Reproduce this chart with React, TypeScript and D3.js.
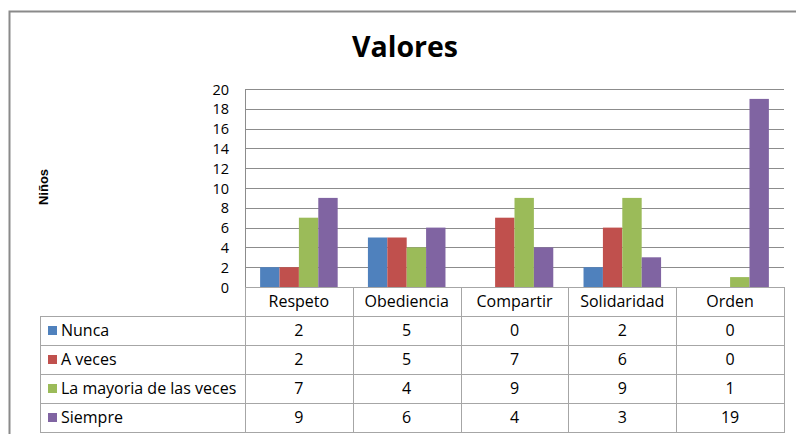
import React from "react";
import * as d3 from "d3";

const categories = ["Respeto", "Obediencia", "Compartir", "Solidaridad", "Orden"];
const seriesNames = ["Nunca", "A veces", "La mayoria de las veces", "Siempre"];
const nunca = [2, 5, 0, 2, 0];
const aVeces = [2, 5, 7, 6, 0];
const mayoria = [7, 4, 9, 9, 1];
const siempre = [9, 6, 4, 3, 19];
const yTicks = [0, 2, 4, 6, 8, 10, 12, 14, 16, 18, 20];
const colors = ["#4F81BD", "#C0504D", "#9BBB59", "#8064A2"];

const seriesValues = [nunca, aVeces, mayoria, siempre];

export default function App() {
  const W = 796;
  const H = 434;
  const plotLeft = 245;
  const plotRight = 784;
  const plotTop = 89;
  const plotBottom = 287;
  const tableLeft = 40;
  const rowH = 29;
  const headerBottom = plotBottom + 29;

  const y = d3.scaleLinear().domain([0, 20]).range([plotBottom, plotTop]);
  const x0 = d3.scaleBand<string>().domain(categories).range([plotLeft, plotRight]).padding(0);
  const x1 = d3
    .scaleBand<string>()
    .domain(seriesNames)
    .range([0, x0.bandwidth()])
    .paddingInner(0)
    .paddingOuter(0.78);

  const font = "'Open Sans', Lato, sans-serif";
  const fs = 16;
  const tickFs = 14.5;
  const gridColor = "#8c8c8c";
  const tableColor = "#a6a6a6";
  const tableBottom = headerBottom + rowH * seriesNames.length;

  return (
    <svg
      width={W}
      height={H}
      style={{ position: "absolute", left: 0, top: 0, background: "#fff" }}
    >
      <rect x={0} y={0} width={W} height={H} fill="#fff" />
      {/* outer frame */}
      <path d={`M9.5,${H + 2} V11.5 H${W + 2}`} fill="none" stroke="#8a8a8a" strokeWidth={2} />

      {/* title */}
      <text x={405} y={57} textAnchor="middle" fontFamily={font} fontWeight="bold" fontSize={28.5} fill="#000">
        Valores
      </text>

      {/* y label */}
      <text
        transform={`translate(48,187) rotate(-90)`}
        textAnchor="middle"
        fontFamily="'Liberation Sans', Arial, sans-serif"
        fontWeight="bold"
        fontSize={13}
        fill="#000"
      >
        Niños
      </text>

      {/* gridlines */}
      {yTicks.map((t) => (
        <line
          key={t}
          x1={plotLeft}
          x2={plotRight}
          y1={Math.round(y(t)) + 0.5}
          y2={Math.round(y(t)) + 0.5}
          stroke={t === 0 ? tableColor : gridColor}
          strokeWidth={1}
        />
      ))}
      {/* y axis line */}
      <line x1={plotLeft + 0.5} x2={plotLeft + 0.5} y1={plotTop} y2={plotBottom} stroke={gridColor} />

      {/* tick labels */}
      {yTicks.map((t) => (
        <text
          key={t}
          x={229}
          y={y(t) + 5.5}
          textAnchor="end"
          fontFamily={font}
          fontSize={tickFs}
          fill="#000"
        >
          {t}
        </text>
      ))}

      {/* bars */}
      {categories.map((c, ci) =>
        seriesNames.map((s, si) => {
          const v = seriesValues[si][ci];
          const bx = (x0(c) ?? 0) + (x1(s) ?? 0);
          return (
            <rect
              key={c + s}
              x={bx}
              y={y(v)}
              width={x1.bandwidth()}
              height={y(0) - y(v)}
              fill={colors[si]}
            />
          );
        })
      )}

      {/* table */}
      {categories.map((c) => (
        <line
          key={"v" + c}
          x1={Math.round(x0(c) ?? 0) + 0.5}
          x2={Math.round(x0(c) ?? 0) + 0.5}
          y1={plotBottom}
          y2={tableBottom}
          stroke={tableColor}
        />
      ))}
      <line x1={plotRight + 0.5} x2={plotRight + 0.5} y1={plotBottom} y2={tableBottom} stroke={tableColor} />
      <line x1={tableLeft + 0.5} x2={tableLeft + 0.5} y1={headerBottom} y2={tableBottom} stroke={tableColor} />
      {seriesNames.map((s, si) => (
        <line
          key={"h" + s}
          x1={tableLeft}
          x2={plotRight}
          y1={headerBottom + si * rowH + 0.5}
          y2={headerBottom + si * rowH + 0.5}
          stroke={tableColor}
        />
      ))}
      <line
        x1={tableLeft}
        x2={plotRight + 1}
        y1={tableBottom + 0.5}
        y2={tableBottom + 0.5}
        stroke={tableColor}
      />

      {/* header labels */}
      {categories.map((c) => (
        <text
          key={"l" + c}
          x={(x0(c) ?? 0) + x0.bandwidth() / 2}
          y={plotBottom + 20}
          textAnchor="middle"
          fontFamily={font}
          fontSize={fs}
          fill="#000"
        >
          {c}
        </text>
      ))}

      {/* rows */}
      {seriesNames.map((s, si) => {
        const rowTop = headerBottom + si * rowH;
        return (
          <g key={"r" + s}>
            <rect x={48} y={rowTop + 10} width={9} height={9} fill={colors[si]} />
            <text x={61} y={rowTop + 20} fontFamily={font} fontSize={fs} fill="#000">
              {s}
            </text>
            {categories.map((c, ci) => (
              <text
                key={c}
                x={(x0(c) ?? 0) + x0.bandwidth() / 2}
                y={rowTop + 20}
                textAnchor="middle"
                fontFamily={font}
                fontSize={fs}
                fill="#000"
              >
                {seriesValues[si][ci]}
              </text>
            ))}
          </g>
        );
      })}
    </svg>
  );
}
